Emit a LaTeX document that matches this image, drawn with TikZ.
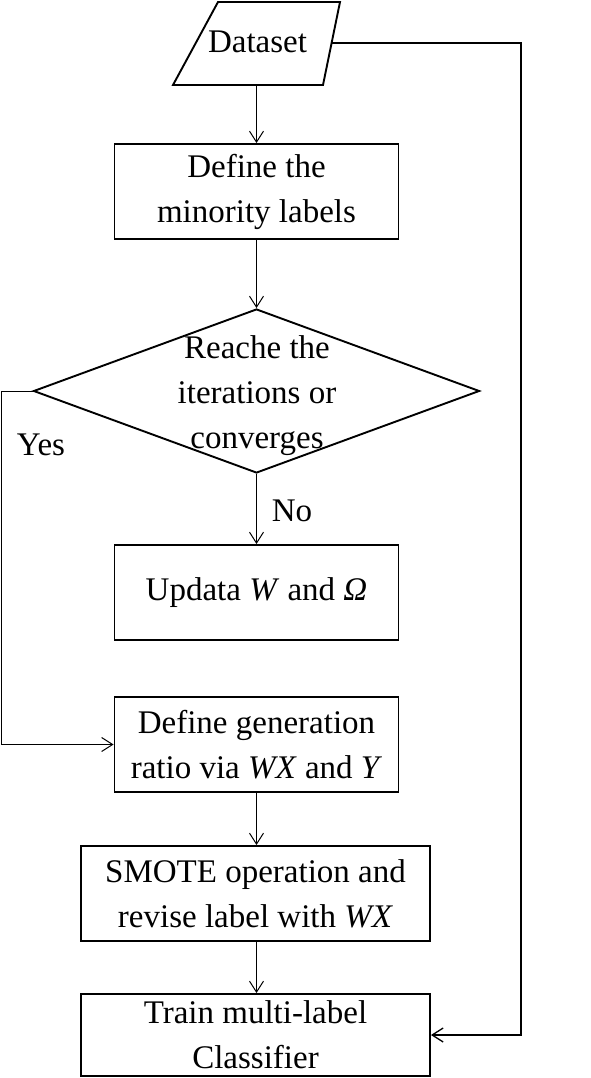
\documentclass[tikz,border=0pt]{standalone}
\usepackage{fontspec}
\setmainfont{Liberation Serif}
\usetikzlibrary{shapes.geometric,arrows.meta}
\begin{document}
\begin{tikzpicture}[x=1pt,y=-1pt,
  box/.style={draw,line width=1.9pt,rectangle,inner sep=0pt,align=center,font=\fontsize{33}{45}\selectfont},
  txt/.style={inner sep=0pt,align=center,font=\fontsize{33}{45}\selectfont},
  conn/.style={line width=1pt,-{Straight Barb[length=11pt,width=14pt]}}]
\useasboundingbox (0,0) rectangle (591,1078);
% Dataset
\draw[line width=1.9pt] (218,2) -- (340,2) -- (323,85) -- (173,85) -- cycle;
\node[txt] (data) at (257.5,42) {Dataset};
\coordinate (dataS) at (256.5,85);
\coordinate (dataE) at (332,43);
% boxes
\node[box,minimum width=284pt,minimum height=95pt] (b1) at (256.5,191.5) {Define the\\minority labels};
\node[draw,diamond,line width=1.9pt,inner sep=0pt,minimum width=446pt,minimum height=164pt] (dec) at (256.5,391) {};
\node[txt] (dect) at (257,396) {Reache the\\iterations or\\converges};
\node[box,minimum width=284pt,minimum height=95pt] (b2) at (256.5,592.5) {Updata \textit{W} and \textit{Ω}};
\node[box,minimum width=284pt,minimum height=95pt] (b3) at (256.5,744.5) {Define generation\\ratio via \textit{WX} and \textit{Y}};
\node[box,minimum width=349pt,minimum height=95pt] (b4) at (255.5,893.5) {SMOTE operation and\\revise label with \textit{WX}};
\node[box,minimum width=349pt,minimum height=82pt] (b5) at (255.5,1035) {Train multi-label\\Classifier};
% labels
\node[txt] (yes) at (41,445) {Yes};
\node[txt] (no) at (292,511) {No};
% connectors
\coordinate (ycorner) at (1,391);
\coordinate (rcorner) at (521,43);
\draw[conn] (dataS) -- (b1.north);
\draw[conn] (b1.south) -- (dec.north);
\draw[conn] (dec.south) -- (b2.north);
\draw[conn] (dec.west) -- (ycorner) |- (b3.west);
\draw[conn] (b3.south) -- (b3.south |- b4.north);
\draw[conn] (b4.south -| b3.south) -- (b3.south |- b5.north);
\draw[conn,line width=1.3pt] (dataE) -- (rcorner) |- (b5.east);
\end{tikzpicture}
\end{document}
